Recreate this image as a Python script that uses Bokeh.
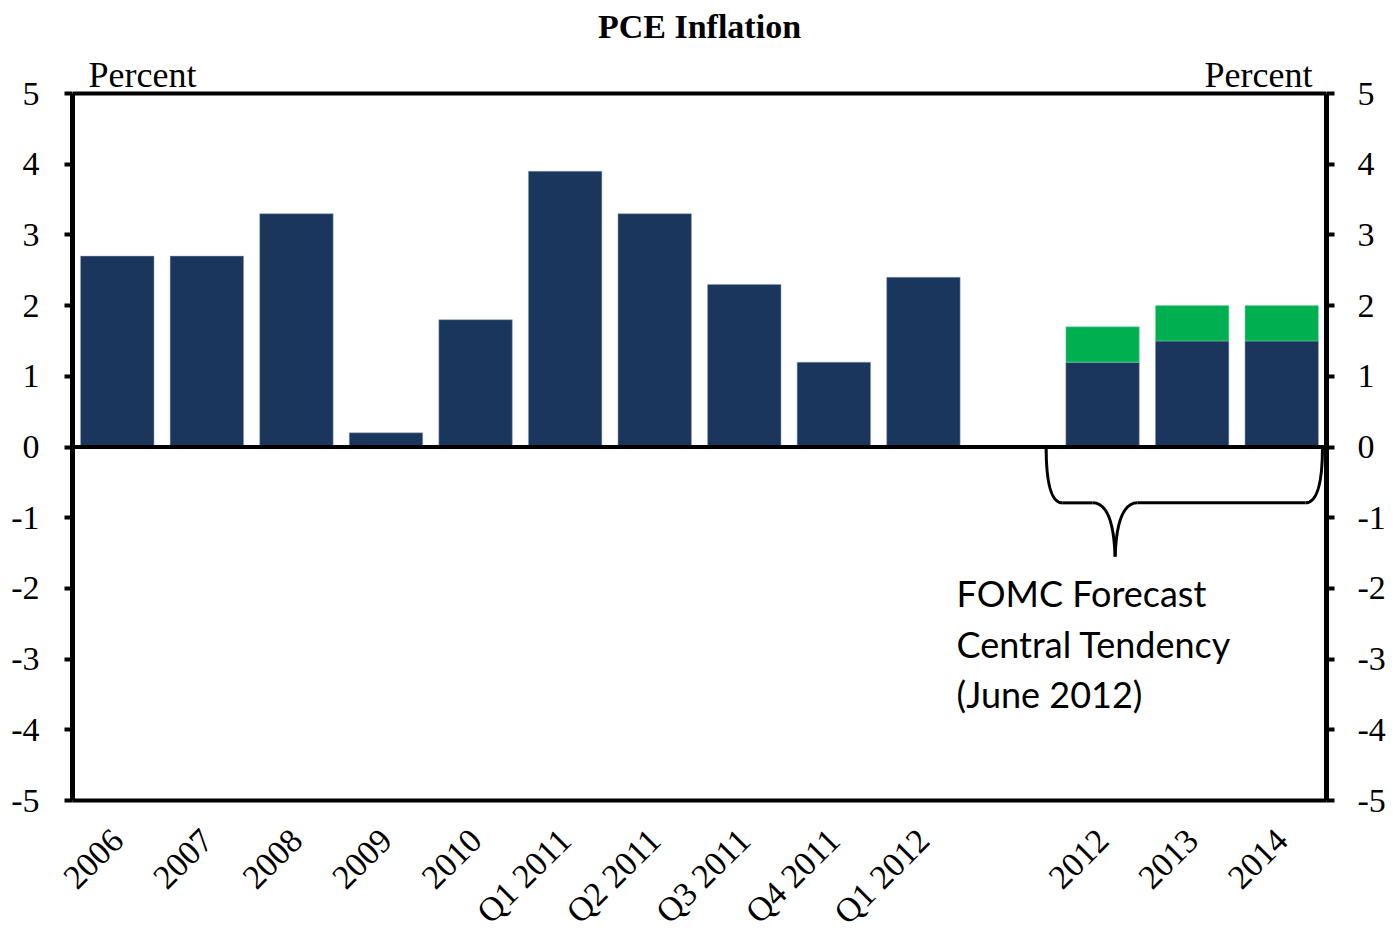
from bokeh.plotting import figure
from bokeh.models import (FactorRange, Range1d, LinearAxis, Span, Label, FixedTicker,
                          ColumnDataSource, CustomJSTickFormatter)
from bokeh.core.properties import value
from bokeh.embed import file_html
from bokeh.resources import INLINE
import math

# ---- data ----
categories = ["2006", "2007", "2008", "2009", "2010", "Q1 2011", "Q2 2011",
              "Q3 2011", "Q4 2011", "Q1 2012", " ", "2012", "2013", "2014"]
actual_cats = ["2006", "2007", "2008", "2009", "2010", "Q1 2011", "Q2 2011",
               "Q3 2011", "Q4 2011", "Q1 2012"]
actual_vals = [2.7, 2.7, 3.3, 0.2, 1.8, 3.9, 3.3, 2.3, 1.2, 2.4]
forecast_cats = ["2012", "2013", "2014"]
forecast_low = [1.2, 1.5, 1.5]
forecast_high = [1.7, 2.0, 2.0]
y_ticks = [-5, -4, -3, -2, -1, 0, 1, 2, 3, 4, 5]
Y_MIN, Y_MAX = -5, 5

NAVY = "#1B365D"
GREEN = "#00B050"
SERIF = "Liberation Serif"

# headroom above the 5-line holds the title and the "Percent" captions
HEAD = 89 / 70.7

p = figure(x_range=FactorRange(*categories), y_range=Range1d(Y_MIN, Y_MAX + HEAD),
           width=1395, height=947, output_backend="svg", toolbar_location=None,
           title=None,
           min_border_left=72, min_border_right=69, min_border_top=4,
           min_border_bottom=147)

p.xgrid.visible = False
p.ygrid.visible = False
p.outline_line_color = None

# bars
p.vbar(x=actual_cats, top=actual_vals, bottom=0, width=0.82, fill_color=NAVY,
       line_color="#8FA0B8", line_width=0.5)
p.vbar(x=forecast_cats, top=forecast_low, bottom=0, width=0.82, fill_color=NAVY,
       line_color="#8FA0B8", line_width=0.5)
p.vbar(x=forecast_cats, top=forecast_high, bottom=forecast_low, width=0.82,
       fill_color=GREEN, line_color="#7FD8A8", line_width=0.5)

p.add_layout(Span(location=0, dimension="width", line_color="black", line_width=4))
p.add_layout(Span(location=Y_MAX, dimension="width", line_color="black", line_width=4))

fmt = CustomJSTickFormatter(code="return tick.toString();")

def style_y(ax):
    ax.ticker = FixedTicker(ticks=y_ticks)
    ax.bounds = (Y_MIN, Y_MAX)
    ax.formatter = fmt
    ax.axis_line_width = 5
    ax.axis_line_color = "black"
    ax.major_tick_in = 0
    ax.major_tick_out = 8
    ax.major_tick_line_width = 4
    ax.minor_tick_line_color = None
    ax.major_label_text_font = SERIF
    ax.major_label_text_font_size = "34px"
    ax.major_label_text_color = "black"

yl = p.yaxis[0]
style_y(yl)
yl.major_label_standoff = 25
yr = LinearAxis()
style_y(yr)
yr.major_label_standoff = 23
p.add_layout(yr, "right")

xa = p.xaxis[0]
xa.axis_line_width = 4
xa.axis_line_color = "black"
xa.major_tick_line_color = None
xa.minor_tick_line_color = None
xa.major_label_orientation = math.pi / 4
xa.major_label_text_font = SERIF
xa.major_label_text_font_size = "34px"
xa.major_label_text_color = "black"
xa.major_label_standoff = 28

# title and "Percent" captions
p.add_layout(Label(x=len(categories) / 2, y=Y_MAX, y_offset=67, text="PCE Inflation",
                   text_font=SERIF, text_font_size="34px", text_font_style="bold",
                   text_align="center", text_baseline="alphabetic", text_color="black"))
p.add_layout(Label(x=16, x_units="screen", y=Y_MAX, y_offset=19, text="Percent",
                   text_font=SERIF, text_font_size="36px", text_baseline="alphabetic",
                   text_color="black"))
p.add_layout(Label(x=len(categories), y=Y_MAX, x_offset=-14, y_offset=19, text="Percent",
                   text_font=SERIF, text_font_size="36px", text_align="right",
                   text_baseline="alphabetic", text_color="black"))

# brace under the forecast bars (synthetic categorical coordinates)
i0 = categories.index("2012")
i1 = categories.index("2014") + 1
bx0 = i0 - 0.13
bx1 = i1 - 0.045
tip = i0 + 0.64
yb = -0.79
yt = -1.55
p.quadratic(x0=[bx0], y0=[0], x1=[bx0 + 0.18], y1=[yb], cx=[bx0], cy=[yb],
            line_color="black", line_width=3)
p.segment(x0=[bx0 + 0.18], y0=[yb], x1=[tip - 0.25], y1=[yb], line_color="black", line_width=3)
p.quadratic(x0=[tip - 0.25], y0=[yb], x1=[tip], y1=[yt], cx=[tip - 0.02], cy=[yb],
            line_color="black", line_width=3)
p.quadratic(x0=[tip], y0=[yt], x1=[tip + 0.25], y1=[yb], cx=[tip + 0.02], cy=[yb],
            line_color="black", line_width=3)
p.segment(x0=[tip + 0.25], y0=[yb], x1=[bx1 - 0.19], y1=[yb], line_color="black", line_width=3)
p.quadratic(x0=[bx1 - 0.19], y0=[yb], x1=[bx1], y1=[0], cx=[bx1], cy=[yb],
            line_color="black", line_width=3)

ann = ColumnDataSource(dict(x=[i0 - 1.13], y=[-1.76],
                            t=["FOMC Forecast\nCentral Tendency\n(June 2012)"]))
p.text(x="x", y="y", text="t", source=ann, text_font=value("Lato"),
       text_font_size="36px", text_baseline="top", text_align="left",
       text_line_height=1.14, text_color="black")

open("out.html", "w").write(file_html(p, INLINE))
